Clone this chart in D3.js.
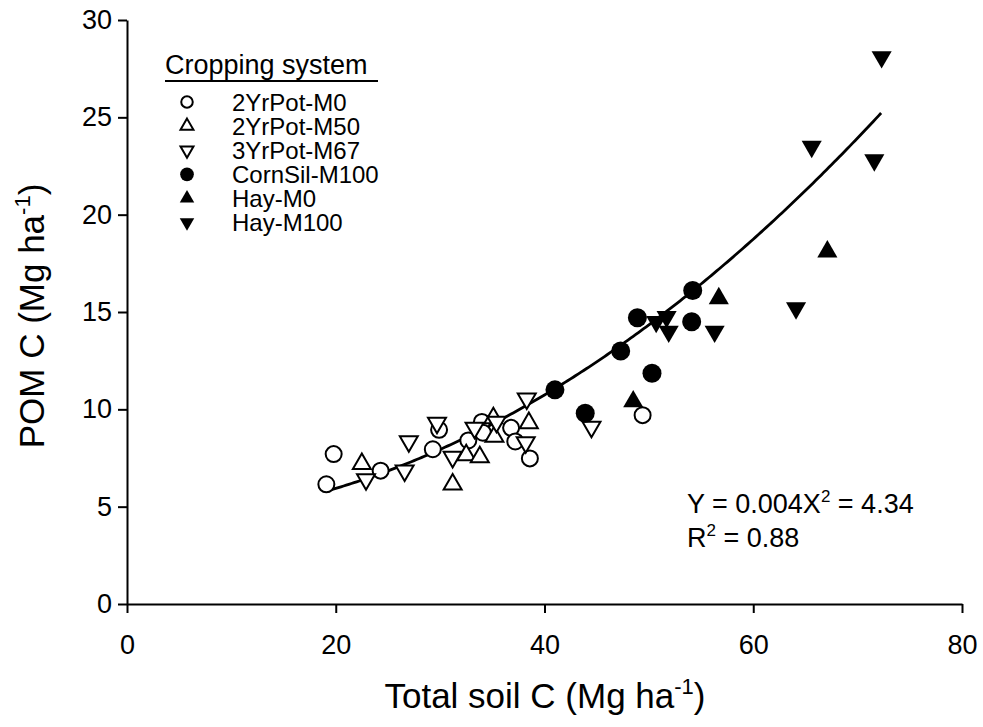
<!DOCTYPE html>
<html><head><meta charset="utf-8">
<script src="https://cdn.jsdelivr.net/npm/d3@7"></script>
<style>body{margin:0;background:#fff}svg{display:block}text{font-family:"Liberation Sans",Arial,sans-serif;fill:#000}</style>
</head><body>
<svg id="c" width="983" height="727"></svg>
<script>
const seriesNames = ["2YrPot-M0","2YrPot-M50","3YrPot-M67","CornSil-M100","Hay-M0","Hay-M100"];
const pot2M0 = [[19.8,7.7],[19.1,6.15],[24.3,6.85],[29.3,7.95],[29.9,8.95],[32.7,8.4],[34.0,9.35],[34.1,8.8],[36.8,9.05],[37.2,8.35],[38.6,7.48],[49.4,9.7]];
const pot2M50 = [[22.5,7.2],[31.2,6.15],[32.5,7.65],[33.8,7.55],[35.1,9.55],[35.2,8.6],[38.5,9.3]];
const pot3M67 = [[22.9,6.4],[26.6,6.85],[27.0,8.35],[29.7,9.3],[31.2,7.55],[33.3,9.05],[35.4,9.35],[38.3,10.55],[38.2,8.3],[44.5,9.1]];
const cornM100 = [[41.0,11.0],[43.9,9.8],[47.3,13.0],[48.9,14.7],[50.3,11.85],[54.2,16.1],[54.1,14.5]];
const hayM0 = [[48.5,10.4],[56.7,15.7],[67.1,18.1]];
const hayM100 = [[50.7,14.5],[51.7,14.75],[51.9,14.0],[56.3,14.0],[64.1,15.2],[65.6,23.5],[71.6,22.8],[72.3,28.1]];
const xTicks = [0,20,40,60,80];
const yTicks = [0,5,10,15,20,25,30];
const fitA = 0.004, fitB = 4.34, fitX = [19.0, 72.3];

const svg = d3.select("#c");
const x = d3.scaleLinear().domain([0,80]).range([127,962]);
const y = d3.scaleLinear().domain([0,30]).range([604,20]);
const FONT = "'Liberation Sans',Arial,sans-serif";

const xAxis = svg.append("g").attr("transform","translate(0,604)")
  .call(d3.axisBottom(x).tickValues(xTicks).tickSize(9).tickSizeOuter(0).tickPadding(22));
const yAxis = svg.append("g").attr("transform","translate(127,0)")
  .call(d3.axisLeft(y).tickValues(yTicks).tickSize(9).tickSizeOuter(0).tickPadding(6));
[xAxis,yAxis].forEach(a=>{
  a.selectAll("path,line").attr("stroke","#000").attr("stroke-width",2);
  a.selectAll("text").style("font-size","27px").style("font-family",FONT);
});

// fit curve
const curvePts = d3.range(fitX[0], fitX[1]+0.001, 0.25).map(v=>[v, fitA*v*v+fitB]);
svg.append("path").datum(curvePts)
  .attr("d", d3.line().x(d=>x(d[0])).y(d=>y(d[1])))
  .attr("fill","none").attr("stroke","#000").attr("stroke-width",2.8);

const triUp = d3.symbol().type(d3.symbolTriangle);
function drawMarker(g, kind, px, py, scale){
  if(kind==="circle"){
    g.append("circle").attr("cx",px).attr("cy",py).attr("r",8*scale)
     .attr("fill","#fff").attr("stroke","#000").attr("stroke-width",2);
  } else if(kind==="fcircle"){
    g.append("circle").attr("cx",px).attr("cy",py).attr("r",9.5*scale).attr("fill","#000");
  } else {
    const up = kind==="up"||kind==="fup";
    const filled = kind==="fup"||kind==="fdown";
    g.append("path").attr("d", triUp.size((filled?175:140)*scale*scale)())
     .attr("transform",`translate(${px},${py}) rotate(${up?0:180})`)
     .attr("fill", filled?"#000":"#fff").attr("stroke", filled?"none":"#000").attr("stroke-width",2);
  }
}
const kinds = ["circle","up","down","fcircle","fup","fdown"];
const allSeries = [pot2M0,pot2M50,pot3M67,cornM100,hayM0,hayM100];
const pg = svg.append("g");
allSeries.forEach((s,i)=>s.forEach(d=>drawMarker(pg, kinds[i], x(d[0]), y(d[1]), 1)));

// legend
const lg = svg.append("g");
lg.append("text").attr("x",165).attr("y",74).style("font-size","27px").text("Cropping system");
lg.append("line").attr("x1",165).attr("x2",378).attr("y1",81).attr("y2",81).attr("stroke","#000").attr("stroke-width",2);
seriesNames.forEach((n,i)=>{
  const cy = 102 + i*24.1;
  drawMarker(lg, kinds[i], 187, cy, 0.72);
  lg.append("text").attr("x",232).attr("y",cy+8.5).style("font-size","24px").text(n);
});

// equation
const eq = svg.append("text").attr("x",687).attr("y",513).style("font-size","27px");
eq.append("tspan").text("Y = 0.004X");
eq.append("tspan").attr("dy",-11).style("font-size","17px").text("2");
eq.append("tspan").attr("dy",11).text(" = 4.34");
const r2 = svg.append("text").attr("x",687).attr("y",547).style("font-size","27px");
r2.append("tspan").text("R");
r2.append("tspan").attr("dy",-11).style("font-size","17px").text("2");
r2.append("tspan").attr("dy",11).text(" = 0.88");

// axis titles
const xt = svg.append("text").attr("x",545).attr("y",708).attr("text-anchor","middle").style("font-size","35px");
xt.append("tspan").text("Total soil C (Mg ha");
xt.append("tspan").attr("dy",-14).style("font-size","22px").text("-1");
xt.append("tspan").attr("dy",14).text(")");
const yt = svg.append("text").attr("transform","translate(44,316) rotate(-90)").attr("text-anchor","middle").style("font-size","35px");
yt.append("tspan").text("POM C (Mg ha");
yt.append("tspan").attr("dy",-14).style("font-size","22px").text("-1");
yt.append("tspan").attr("dy",14).text(")");
</script>
</body></html>
